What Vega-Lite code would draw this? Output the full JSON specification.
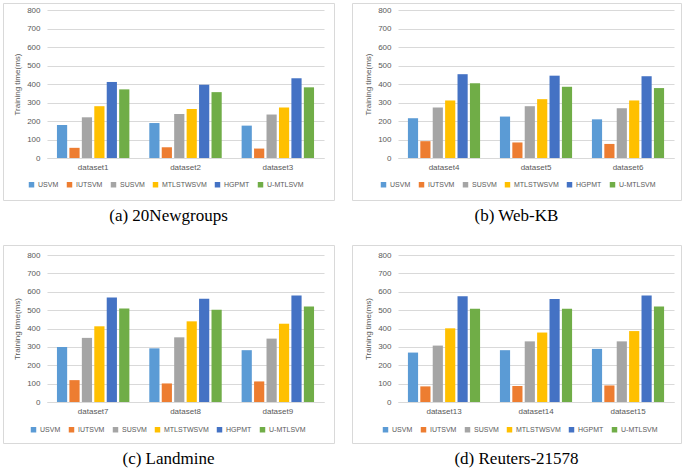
{
  "$schema": "https://vega.github.io/schema/vega-lite/v6.json",
  "background": "white",
  "padding": {"left": 2, "top": 2, "right": 0, "bottom": 0},
  "config": {
    "font": "Liberation Sans",
    "view": {"stroke": "#d9d9d9", "strokeWidth": 1},
    "axis": {
      "labelFontSize": 8, "labelColor": "#595959", "titleFontSize": 8, "titleColor": "#595959",
      "titleFontWeight": "normal", "ticks": false, "domain": false, "gridColor": "#d9d9d9", "labelFont": "Liberation Sans", "titleFont": "Liberation Sans"
    },
    "axisX": {"domain": true, "domainColor": "#d9d9d9", "labelAngle": 0, "grid": false, "labelPadding": 5, "title": null},
    "axisY": {"grid": true, "labelPadding": 7, "titlePadding": 5, "labelOverlap": false},
    "legend": {
      "orient": "none", "direction": "horizontal", "title": null, "symbolType": "square", "symbolSize": 30,
      "labelFontSize": 7, "labelColor": "#595959", "columnPadding": 7, "labelOffset": 3, "symbolStrokeWidth": 0
    },
    "title": {"font": "Liberation Serif", "fontSize": 17, "fontWeight": "normal", "color": "#000000", "orient": "bottom", "anchor": "middle", "offset": 8}
  },
  "datasets": {
    "d": [
      {"panel": "a", "dataset": "dataset1", "method": "USVM", "time": 178},
      {"panel": "a", "dataset": "dataset1", "method": "IUTSVM", "time": 55},
      {"panel": "a", "dataset": "dataset1", "method": "SUSVM", "time": 220},
      {"panel": "a", "dataset": "dataset1", "method": "MTLSTWSVM", "time": 280},
      {"panel": "a", "dataset": "dataset1", "method": "HGPMT", "time": 411},
      {"panel": "a", "dataset": "dataset1", "method": "U-MTLSVM", "time": 371},
      {"panel": "a", "dataset": "dataset2", "method": "USVM", "time": 189},
      {"panel": "a", "dataset": "dataset2", "method": "IUTSVM", "time": 58},
      {"panel": "a", "dataset": "dataset2", "method": "SUSVM", "time": 238},
      {"panel": "a", "dataset": "dataset2", "method": "MTLSTWSVM", "time": 265},
      {"panel": "a", "dataset": "dataset2", "method": "HGPMT", "time": 396},
      {"panel": "a", "dataset": "dataset2", "method": "U-MTLSVM", "time": 356},
      {"panel": "a", "dataset": "dataset3", "method": "USVM", "time": 175},
      {"panel": "a", "dataset": "dataset3", "method": "IUTSVM", "time": 51},
      {"panel": "a", "dataset": "dataset3", "method": "SUSVM", "time": 235},
      {"panel": "a", "dataset": "dataset3", "method": "MTLSTWSVM", "time": 273},
      {"panel": "a", "dataset": "dataset3", "method": "HGPMT", "time": 431},
      {"panel": "a", "dataset": "dataset3", "method": "U-MTLSVM", "time": 382},
      {"panel": "b", "dataset": "dataset4", "method": "USVM", "time": 215},
      {"panel": "b", "dataset": "dataset4", "method": "IUTSVM", "time": 91},
      {"panel": "b", "dataset": "dataset4", "method": "SUSVM", "time": 273},
      {"panel": "b", "dataset": "dataset4", "method": "MTLSTWSVM", "time": 311},
      {"panel": "b", "dataset": "dataset4", "method": "HGPMT", "time": 453},
      {"panel": "b", "dataset": "dataset4", "method": "U-MTLSVM", "time": 404},
      {"panel": "b", "dataset": "dataset5", "method": "USVM", "time": 224},
      {"panel": "b", "dataset": "dataset5", "method": "IUTSVM", "time": 84},
      {"panel": "b", "dataset": "dataset5", "method": "SUSVM", "time": 280},
      {"panel": "b", "dataset": "dataset5", "method": "MTLSTWSVM", "time": 318},
      {"panel": "b", "dataset": "dataset5", "method": "HGPMT", "time": 445},
      {"panel": "b", "dataset": "dataset5", "method": "U-MTLSVM", "time": 385},
      {"panel": "b", "dataset": "dataset6", "method": "USVM", "time": 209},
      {"panel": "b", "dataset": "dataset6", "method": "IUTSVM", "time": 76},
      {"panel": "b", "dataset": "dataset6", "method": "SUSVM", "time": 269},
      {"panel": "b", "dataset": "dataset6", "method": "MTLSTWSVM", "time": 311},
      {"panel": "b", "dataset": "dataset6", "method": "HGPMT", "time": 442},
      {"panel": "b", "dataset": "dataset6", "method": "U-MTLSVM", "time": 378},
      {"panel": "c", "dataset": "dataset7", "method": "USVM", "time": 300},
      {"panel": "c", "dataset": "dataset7", "method": "IUTSVM", "time": 119},
      {"panel": "c", "dataset": "dataset7", "method": "SUSVM", "time": 349},
      {"panel": "c", "dataset": "dataset7", "method": "MTLSTWSVM", "time": 412},
      {"panel": "c", "dataset": "dataset7", "method": "HGPMT", "time": 569},
      {"panel": "c", "dataset": "dataset7", "method": "U-MTLSVM", "time": 509},
      {"panel": "c", "dataset": "dataset8", "method": "USVM", "time": 292},
      {"panel": "c", "dataset": "dataset8", "method": "IUTSVM", "time": 101},
      {"panel": "c", "dataset": "dataset8", "method": "SUSVM", "time": 352},
      {"panel": "c", "dataset": "dataset8", "method": "MTLSTWSVM", "time": 439},
      {"panel": "c", "dataset": "dataset8", "method": "HGPMT", "time": 562},
      {"panel": "c", "dataset": "dataset8", "method": "U-MTLSVM", "time": 502},
      {"panel": "c", "dataset": "dataset9", "method": "USVM", "time": 282},
      {"panel": "c", "dataset": "dataset9", "method": "IUTSVM", "time": 112},
      {"panel": "c", "dataset": "dataset9", "method": "SUSVM", "time": 345},
      {"panel": "c", "dataset": "dataset9", "method": "MTLSTWSVM", "time": 426},
      {"panel": "c", "dataset": "dataset9", "method": "HGPMT", "time": 580},
      {"panel": "c", "dataset": "dataset9", "method": "U-MTLSVM", "time": 520},
      {"panel": "d", "dataset": "dataset13", "method": "USVM", "time": 269},
      {"panel": "d", "dataset": "dataset13", "method": "IUTSVM", "time": 85},
      {"panel": "d", "dataset": "dataset13", "method": "SUSVM", "time": 307},
      {"panel": "d", "dataset": "dataset13", "method": "MTLSTWSVM", "time": 401},
      {"panel": "d", "dataset": "dataset13", "method": "HGPMT", "time": 576},
      {"panel": "d", "dataset": "dataset13", "method": "U-MTLSVM", "time": 507},
      {"panel": "d", "dataset": "dataset14", "method": "USVM", "time": 282},
      {"panel": "d", "dataset": "dataset14", "method": "IUTSVM", "time": 87},
      {"panel": "d", "dataset": "dataset14", "method": "SUSVM", "time": 330},
      {"panel": "d", "dataset": "dataset14", "method": "MTLSTWSVM", "time": 378},
      {"panel": "d", "dataset": "dataset14", "method": "HGPMT", "time": 561},
      {"panel": "d", "dataset": "dataset14", "method": "U-MTLSVM", "time": 507},
      {"panel": "d", "dataset": "dataset15", "method": "USVM", "time": 289},
      {"panel": "d", "dataset": "dataset15", "method": "IUTSVM", "time": 90},
      {"panel": "d", "dataset": "dataset15", "method": "SUSVM", "time": 330},
      {"panel": "d", "dataset": "dataset15", "method": "MTLSTWSVM", "time": 386},
      {"panel": "d", "dataset": "dataset15", "method": "HGPMT", "time": 580},
      {"panel": "d", "dataset": "dataset15", "method": "U-MTLSVM", "time": 520}
    ]
  },
  "spacing": 19,
  "resolve": {"scale": {"color": "independent", "x": "independent", "y": "independent", "xOffset": "independent"}, "legend": {"color": "independent"}},
  "vconcat": [
    {
      "spacing": 18,
      "bounds": "flush",
      "resolve": {"scale": {"color": "independent", "x": "independent", "y": "independent", "xOffset": "independent"}, "legend": {"color": "independent"}},
      "hconcat": [
        {
          "width": 331, "height": 197,
          "title": "(a) 20Newgroups",
          "data": {"name": "d"},
          "transform": [{"filter": "datum.panel == 'a'"}],
          "mark": {"type": "bar"},
          "encoding": {
            "x": {"field": "dataset", "type": "nominal", "scale": {"range": [44, 321], "paddingInner": 0, "paddingOuter": 0}, "axis": {"offset": -42}},
            "xOffset": {"field": "method", "type": "nominal", "sort": ["USVM", "IUTSVM", "SUSVM", "MTLSTWSVM", "HGPMT", "U-MTLSVM"], "scale": {"paddingInner": 0.18, "paddingOuter": 0.8}},
            "y": {"field": "time", "type": "quantitative", "scale": {"domain": [0, 800], "range": [155, 7], "nice": false}, "axis": {"offset": -44, "title": "Training time(ms)", "values": [0, 100, 200, 300, 400, 500, 600, 700, 800]}},
            "color": {"field": "method", "type": "nominal", "scale": {"domain": ["USVM", "IUTSVM", "SUSVM", "MTLSTWSVM", "HGPMT", "U-MTLSVM"], "range": ["#5b9bd5", "#ed7d31", "#a5a5a5", "#ffc000", "#4472c4", "#70ad47"]}, "legend": {"legendX": 25, "legendY": 178}}
          }
        },
        {
          "width": 329, "height": 197,
          "title": "(b) Web-KB",
          "data": {"name": "d"},
          "transform": [{"filter": "datum.panel == 'b'"}],
          "mark": {"type": "bar"},
          "encoding": {
            "x": {"field": "dataset", "type": "nominal", "scale": {"range": [46, 322], "paddingInner": 0, "paddingOuter": 0}, "axis": {"offset": -42}},
            "xOffset": {"field": "method", "type": "nominal", "sort": ["USVM", "IUTSVM", "SUSVM", "MTLSTWSVM", "HGPMT", "U-MTLSVM"], "scale": {"paddingInner": 0.18, "paddingOuter": 0.8}},
            "y": {"field": "time", "type": "quantitative", "scale": {"domain": [0, 800], "range": [155, 7], "nice": false}, "axis": {"offset": -46, "title": "Training time(ms)", "values": [0, 100, 200, 300, 400, 500, 600, 700, 800]}},
            "color": {"field": "method", "type": "nominal", "scale": {"domain": ["USVM", "IUTSVM", "SUSVM", "MTLSTWSVM", "HGPMT", "U-MTLSVM"], "range": ["#5b9bd5", "#ed7d31", "#a5a5a5", "#ffc000", "#4472c4", "#70ad47"]}, "legend": {"legendX": 28, "legendY": 178}}
          }
        }
      ]
    },
    {
      "spacing": 18,
      "bounds": "flush",
      "resolve": {"scale": {"color": "independent", "x": "independent", "y": "independent", "xOffset": "independent"}, "legend": {"color": "independent"}},
      "hconcat": [
        {
          "width": 331, "height": 198,
          "title": "(c) Landmine",
          "data": {"name": "d"},
          "transform": [{"filter": "datum.panel == 'c'"}],
          "mark": {"type": "bar"},
          "encoding": {
            "x": {"field": "dataset", "type": "nominal", "scale": {"range": [44, 321], "paddingInner": 0, "paddingOuter": 0}, "axis": {"offset": -41}},
            "xOffset": {"field": "method", "type": "nominal", "sort": ["USVM", "IUTSVM", "SUSVM", "MTLSTWSVM", "HGPMT", "U-MTLSVM"], "scale": {"paddingInner": 0.18, "paddingOuter": 0.8}},
            "y": {"field": "time", "type": "quantitative", "scale": {"domain": [0, 800], "range": [157, 10], "nice": false}, "axis": {"offset": -44, "title": "Training time(ms)", "values": [0, 100, 200, 300, 400, 500, 600, 700, 800]}},
            "color": {"field": "method", "type": "nominal", "scale": {"domain": ["USVM", "IUTSVM", "SUSVM", "MTLSTWSVM", "HGPMT", "U-MTLSVM"], "range": ["#5b9bd5", "#ed7d31", "#a5a5a5", "#ffc000", "#4472c4", "#70ad47"]}, "legend": {"legendX": 27, "legendY": 181}}
          }
        },
        {
          "width": 329, "height": 198,
          "title": "(d) Reuters-21578",
          "data": {"name": "d"},
          "transform": [{"filter": "datum.panel == 'd'"}],
          "mark": {"type": "bar"},
          "encoding": {
            "x": {"field": "dataset", "type": "nominal", "scale": {"range": [46, 322], "paddingInner": 0, "paddingOuter": 0}, "axis": {"offset": -41}},
            "xOffset": {"field": "method", "type": "nominal", "sort": ["USVM", "IUTSVM", "SUSVM", "MTLSTWSVM", "HGPMT", "U-MTLSVM"], "scale": {"paddingInner": 0.18, "paddingOuter": 0.8}},
            "y": {"field": "time", "type": "quantitative", "scale": {"domain": [0, 800], "range": [157, 10], "nice": false}, "axis": {"offset": -46, "title": "Training time(ms)", "values": [0, 100, 200, 300, 400, 500, 600, 700, 800]}},
            "color": {"field": "method", "type": "nominal", "scale": {"domain": ["USVM", "IUTSVM", "SUSVM", "MTLSTWSVM", "HGPMT", "U-MTLSVM"], "range": ["#5b9bd5", "#ed7d31", "#a5a5a5", "#ffc000", "#4472c4", "#70ad47"]}, "legend": {"legendX": 30, "legendY": 181}}
          }
        }
      ]
    }
  ]
}
